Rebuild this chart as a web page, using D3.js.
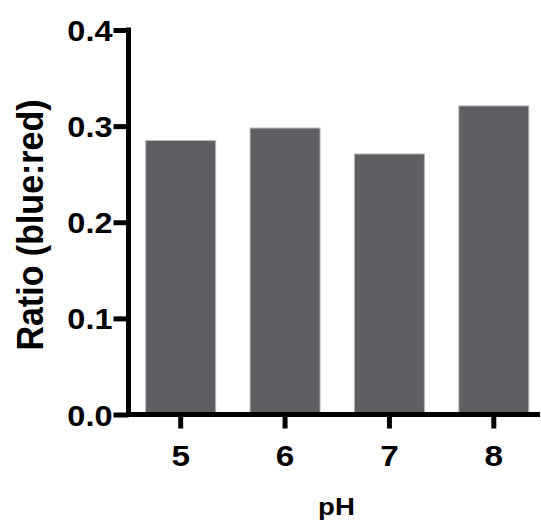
<!DOCTYPE html>
<html>
<head>
<meta charset="utf-8">
<script src="https://cdn.jsdelivr.net/npm/d3@7"></script>
<style>
  html, body { margin: 0; padding: 0; background: #fff; }
  svg text { font-family: "Liberation Sans", Arial, Helvetica, sans-serif; font-weight: bold; fill: #000; }
</style>
</head>
<body>
<svg id="chart" width="541" height="527"></svg>
<script>
const categories = ["5", "6", "7", "8"];
const values = [0.285, 0.298, 0.271, 0.321];
const yTicks = [0.0, 0.1, 0.2, 0.3, 0.4];
const xTitle = "pH";
const yTitle = "Ratio (blue:red)";

const svg = d3.select("#chart");
const x0 = 128.5, x1 = 546, yBottom = 414.5, yTop = 30;

const x = d3.scaleBand().domain(categories).range([x0, x1]).paddingInner(0.33).paddingOuter(0.165);
const y = d3.scaleLinear().domain([0, 0.4]).range([yBottom, yTop]);

// bars
svg.append("g").selectAll("rect").data(categories).join("rect")
  .attr("x", d => x(d))
  .attr("y", (d, i) => y(values[i]))
  .attr("width", x.bandwidth())
  .attr("height", (d, i) => y(0) - y(values[i]))
  .attr("fill", "#5f5e63")
  .attr("stroke", "#b4b4b6")
  .attr("stroke-width", 1);

function styleAxis(g) {
  g.selectAll("path, line")
    .style("stroke", "#000")
    .style("stroke-width", "5px")
    .style("fill", "none");
}

// y axis
const yAxis = d3.axisLeft(y).tickValues(yTicks).tickFormat(d3.format(".1f")).tickSize(15).tickPadding(2);
const gy = svg.append("g").attr("transform", `translate(${x0},0)`).call(yAxis);
gy.select(".domain").attr("d", `M0,${yTop - 2.5}V${yBottom + 2.5}`);
styleAxis(gy);
gy.selectAll(".tick text").each(function() {
  d3.select(this).attr("x", null).attr("dy", null)
   .attr("transform", `translate(-16,10.5) scale(1.12,1)`)
   .attr("text-anchor", "end")
   .style("font-size", "29px");
});

// x axis
const xAxis = d3.axisBottom(x).tickSize(14).tickPadding(0);
const gx = svg.append("g").attr("transform", `translate(0,${yBottom})`).call(xAxis);
gx.select(".domain").attr("d", `M${x0 - 2.5},0H540`);
styleAxis(gx);
gx.selectAll(".tick text").each(function() {
  d3.select(this).attr("y", null).attr("dy", null)
   .attr("transform", `translate(0,51) scale(1.15,1)`)
   .attr("text-anchor", "middle")
   .style("font-size", "29px");
});

// titles
svg.append("text")
  .attr("transform", `translate(336.5,515) scale(1.2,1)`)
  .attr("text-anchor", "middle")
  .style("font-size", "23px")
  .text(xTitle);

svg.append("text")
  .attr("transform", `translate(43,225) rotate(-90) scale(1,1.1)`)
  .attr("text-anchor", "middle")
  .style("font-size", "34px")
  .text(yTitle);
</script>
</body>
</html>
